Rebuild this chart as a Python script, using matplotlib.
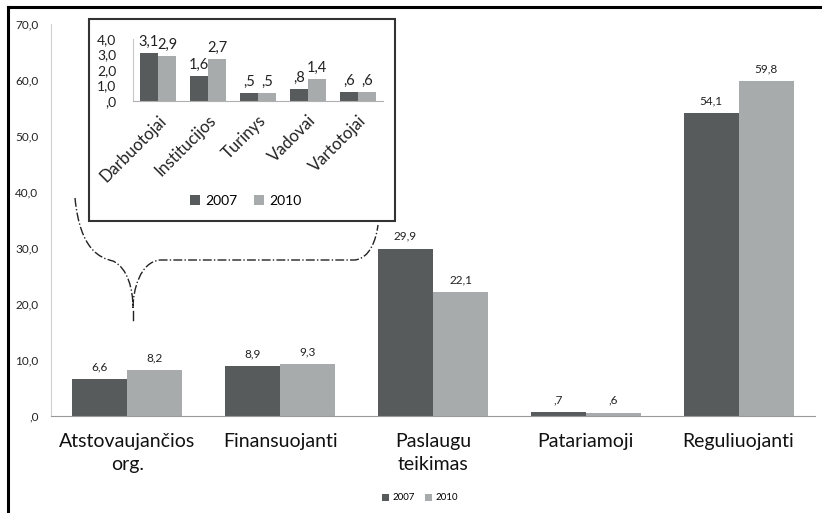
import numpy as np
import matplotlib.pyplot as plt
from matplotlib.patches import Rectangle
from matplotlib.path import Path
from matplotlib.patches import PathPatch
from matplotlib.lines import Line2D

plt.rcParams['font.family'] = ['Lato', 'DejaVu Sans']

# main chart data
cats = ['Atstovaujančios\norg.', 'Finansuojanti', 'Paslaugu\nteikimas', 'Patariamoji', 'Reguliuojanti']
v2007 = [6.6, 8.9, 29.9, 0.7, 54.1]
v2010 = [8.2, 9.3, 22.1, 0.6, 59.8]
yticks = [0, 10, 20, 30, 40, 50, 60, 70]

# inset data
icats = ['Darbuotojai', 'Institucijos', 'Turinys', 'Vadovai', 'Vartotojai']
i2007 = [3.1, 1.6, 0.5, 0.8, 0.6]
i2010 = [2.9, 2.7, 0.5, 1.4, 0.6]
iyticks = [0, 1, 2, 3, 4]

years = ['2007', '2010']
c_dark = '#585b5c'
c_light = '#a8abac'


def fmt(v):
    s = f"{v:.1f}".replace('.', ',')
    if s.startswith('0'):
        s = s[1:]
    return s


fig = plt.figure(figsize=(8.22, 5.13), dpi=100)

# outer frame (left and top only)
fig.add_artist(Line2D([8/822, 8/822], [0, 1-7/513], color='black', lw=2.2, transform=fig.transFigure))
fig.add_artist(Line2D([8/822, 1], [1-7/513, 1-7/513], color='black', lw=2.2, transform=fig.transFigure))

ax = fig.add_axes([51/822, 1-416/513, 764/822, 392/513])
x = np.arange(len(cats))
w = 0.36
b1 = ax.bar(x - w/2, v2007, w, color=c_dark, label=years[0])
b2 = ax.bar(x + w/2, v2010, w, color=c_light, label=years[1])
for bars, vals in [(b1, v2007), (b2, v2010)]:
    for r, v in zip(bars, vals):
        ax.annotate(fmt(v), (r.get_x() + r.get_width()/2, v), xytext=(0, 5),
                    textcoords='offset points', ha='center', va='bottom', fontsize=8.5, color='#222222')
ax.set_xlim(-0.5, len(cats) - 0.5)
ax.set_ylim(0, 70)
ax.set_yticks(yticks)
ax.set_yticklabels([fmt(t) for t in yticks], fontsize=8.5, color='#222222')
ax.set_xticks(x)
ax.set_xticklabels(cats, fontsize=14, color='#111111', linespacing=1.45)
ax.tick_params(axis='both', length=0)
ax.tick_params(axis='y', pad=9)
ax.tick_params(axis='x', pad=12)
for s in ['top', 'right']:
    ax.spines[s].set_visible(False)
ax.spines['left'].set_color('#d0d0d0')
ax.spines['bottom'].set_color('#9a9a9a')
ax.legend(loc='center', bbox_to_anchor=(420/822, 1-498/513), bbox_transform=fig.transFigure,
          ncol=2, frameon=False, fontsize=7, handlelength=0.7, handleheight=0.7,
          handletextpad=0.4, columnspacing=1.0)

# brace annotation
verts = [(75, 198), (80, 250), (100, 258), (113, 261),
         (128, 268), (133, 290), (133, 308),
         (133, 290), (140, 262), (160, 260),
         (355, 260),
         (370, 258), (376, 240), (378, 225)]
codes = [Path.MOVETO, Path.CURVE4, Path.CURVE4, Path.CURVE4,
         Path.CURVE4, Path.CURVE4, Path.CURVE4,
         Path.CURVE4, Path.CURVE4, Path.CURVE4,
         Path.LINETO,
         Path.CURVE4, Path.CURVE4, Path.CURVE4]
vv = [(px/822, 1 - py/513) for px, py in verts]
fig.add_artist(PathPatch(Path(vv, codes), fill=False, ls='-.', lw=1.0, color='#222222',
                         transform=fig.transFigure))
fig.add_artist(Line2D([133/822, 133/822], [1-311/513, 1-320/513], color='#222222', lw=1.0,
                      transform=fig.transFigure))

# inset box
fig.add_artist(Rectangle((89/822, 1-221/513), 306/822, 202/513, fill=True, facecolor='white',
                         edgecolor='#333333', lw=1.5, transform=fig.transFigure, zorder=5))

ia = fig.add_axes([133/822, 1-101/513, 250/822, 62/513], zorder=6)
ia.patch.set_alpha(0)
xi = np.arange(len(icats))
c1 = ia.bar(xi - w/2, i2007, w, color=c_dark, label=years[0])
c2 = ia.bar(xi + w/2, i2010, w, color=c_light, label=years[1])
for bars, vals in [(c1, i2007), (c2, i2010)]:
    for r, v in zip(bars, vals):
        ia.annotate(fmt(v), (r.get_x() + r.get_width()/2, v), xytext=(0, 3),
                    textcoords='offset points', ha='center', va='bottom', fontsize=10.5, color='#222222')
ia.set_xlim(-0.5, len(icats) - 0.5)
ia.set_ylim(0, 4)
ia.set_yticks(iyticks)
ia.set_yticklabels([fmt(t) for t in iyticks], fontsize=10, color='#222222')
ia.set_xticks(xi)
ia.set_xticklabels(icats, fontsize=12, rotation=45, ha='right', rotation_mode='anchor', color='#222222')
ia.tick_params(axis='both', length=0)
ia.tick_params(axis='y', pad=12)
ia.tick_params(axis='x', pad=8)
for s in ['top', 'right']:
    ia.spines[s].set_visible(False)
ia.spines['left'].set_color('#c8c8c8')
ia.spines['bottom'].set_color('#b0b0b0')
ia.legend(loc='center', bbox_to_anchor=(246/822, 1-201/513), bbox_transform=fig.transFigure,
          ncol=2, frameon=False, fontsize=10, handlelength=0.7, handleheight=0.7,
          handletextpad=0.4, columnspacing=1.2)

fig.savefig('out.png', dpi=100)
